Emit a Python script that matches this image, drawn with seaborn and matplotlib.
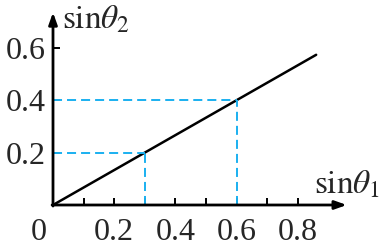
import matplotlib
matplotlib.use("Agg")
import matplotlib.pyplot as plt
import seaborn as sns
import pandas as pd

sin1 = [0.0, 0.86]
sin2 = [0.0, 0.5733]
guide_x = [0.3, 0.6]
guide_y = [0.2, 0.4]
xticks_minor = [0.1, 0.2, 0.3, 0.4, 0.5, 0.6, 0.7, 0.8]
xtick_labels = ["0.2", "0.4", "0.6", "0.8"]
xtick_pos = [0.2, 0.4, 0.6, 0.8]
ytick_pos = [0.2, 0.4, 0.6]
ytick_labels = ["0.2", "0.4", "0.6"]

sns.set_style("white")
plt.rcParams["font.family"] = ["Liberation Serif", "DejaVu Serif"]
plt.rcParams["mathtext.fontset"] = "stix"

fig = plt.figure(figsize=(3.82, 2.45), dpi=100)
ax = fig.add_axes([53/382, 40/245, 306/382, 0.75*262/245])

df = pd.DataFrame({"x": sin1, "y": sin2})
sns.lineplot(data=df, x="x", y="y", ax=ax, color="black", linewidth=1.8)

blue = "#1ab0f0"
lw = 1.4
for gx, gy in zip(guide_x, guide_y):
    ax.plot([0, gx], [gy, gy], color=blue, lw=lw, dashes=(6.5/lw, 3.6/lw))
    ax.plot([gx, gx], [0, gy], color=blue, lw=lw, dashes=(6.5/lw, 3.6/lw))

ax.set_xlim(0, 1.0)
ax.set_ylim(0, 0.75)
for s in ax.spines.values():
    s.set_visible(False)

# axes with arrows
ax.annotate("", xy=(0.96, 0), xytext=(-0.003, 0),
            arrowprops=dict(arrowstyle="-|>,head_length=0.7,head_width=0.25",
                            color="black", lw=2.0, shrinkA=0, shrinkB=0),
            annotation_clip=False)
ax.annotate("", xy=(0, 0.735), xytext=(0, -0.004),
            arrowprops=dict(arrowstyle="-|>,head_length=0.7,head_width=0.25",
                            color="black", lw=2.0, shrinkA=0, shrinkB=0),
            annotation_clip=False)

ax.set_xticks(xticks_minor, minor=True)
ax.set_xticks(xtick_pos)
ax.set_xticklabels(xtick_labels)
ax.set_yticks(ytick_pos)
ax.set_yticklabels(ytick_labels)
ax.tick_params(axis="x", which="both", direction="in", length=5, width=1.4,
               color="black", bottom=True, pad=9, labelsize=23)
ax.tick_params(axis="y", direction="in", length=5, width=1.4, color="black",
               left=True, pad=5, labelsize=23)
ax.set_xlabel("")
ax.set_ylabel("")

ax.annotate("0", xy=(0, 0), xytext=(-10, -9), textcoords="offset points",
            ha="center", va="top", fontsize=23, annotation_clip=False)

ax.text(0.03, 0.675, r"$\mathrm{sin}\theta_2$", fontsize=24, va="baseline",
        ha="left", clip_on=False)
ax.text(0.853, 0.042, r"$\mathrm{sin}\theta_1$", fontsize=24, va="baseline",
        ha="left", clip_on=False)

fig.savefig("out.png", dpi=100)
